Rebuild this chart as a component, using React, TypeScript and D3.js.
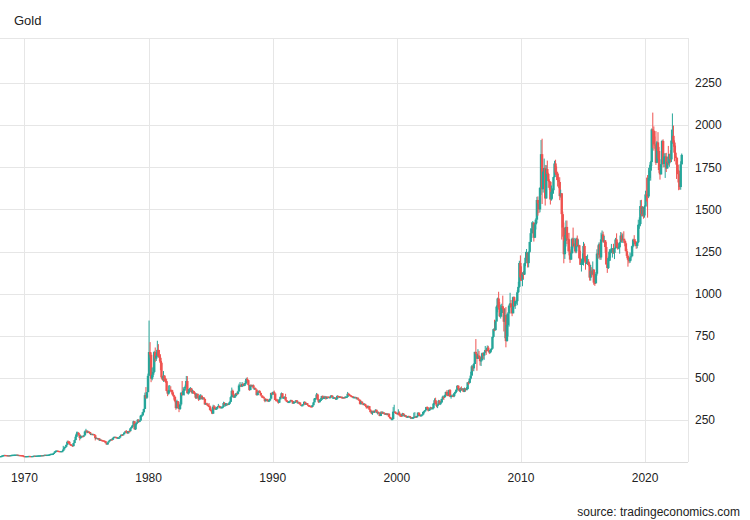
import React from "react";
import * as d3 from "d3";

const startYear = 1968;
const yTicks = [250, 500, 750, 1000, 1250, 1500, 1750, 2000, 2250];
const xTickYears = [1970, 1980, 1990, 2000, 2010, 2020];
const firstOpen = 35.2;

// Monthly closes, one row per year (1968..2022)
const closes: number[][] = [
  [35.2, 35.2, 38.3, 39.7, 41.9, 41.2, 40.6, 39.3, 39.8, 39.4, 40.9, 41.9],
  [42.5, 42.6, 43.3, 43.3, 43.5, 41.2, 41.8, 41.0, 40.5, 40.0, 36.0, 35.2],
  [35.0, 35.0, 35.3, 35.7, 36.0, 35.5, 35.3, 35.4, 36.2, 37.5, 37.4, 37.4],
  [37.9, 38.8, 38.9, 39.5, 40.5, 40.1, 41.0, 42.7, 42.0, 42.5, 42.9, 43.5],
  [46.0, 48.3, 48.3, 49.0, 54.6, 62.1, 65.7, 67.0, 65.5, 64.9, 62.9, 64.9],
  [65.1, 74.2, 84.1, 90.5, 102.0, 120.1, 120.0, 106.8, 103.0, 100.1, 94.0, 112.3],
  [130, 150, 168, 172, 163, 143, 154, 154, 152, 158, 181, 186.5],
  [176, 180, 178, 167, 167, 166, 166, 159, 141, 143, 139, 140],
  [128, 132, 129, 128, 126, 124, 112, 104, 116, 123, 131, 134.5],
  [132, 142, 149, 149, 147, 141, 145, 145, 154, 162, 161, 165],
  [175, 182, 181, 170, 184, 183, 200, 208, 218, 242, 194, 226],
  [233, 251, 240, 246, 275, 277, 296, 315, 397, 382, 415, 512],
  [653, 637, 494, 518, 535, 653, 614, 631, 666, 629, 619, 590],
  [502, 489, 513, 482, 480, 422, 406, 425, 428, 427, 414, 397],
  [387, 362, 320, 361, 325, 315, 342, 411, 397, 423, 436, 448],
  [481, 408, 414, 433, 437, 416, 422, 414, 405, 382, 405, 381],
  [371, 394, 394, 373, 383, 374, 342, 348, 341, 333, 329, 309],
  [306, 287, 329, 321, 315, 317, 327, 333, 326, 325, 325, 327],
  [350, 339, 345, 345, 343, 346, 357, 385, 423, 401, 383, 391],
  [407, 405, 419, 454, 456, 448, 463, 453, 460, 469, 493, 486],
  [458, 427, 457, 451, 455, 437, 437, 430, 397, 412, 421, 410],
  [395, 388, 385, 378, 362, 373, 368, 360, 366, 376, 410, 401],
  [415, 407, 368, 367, 364, 352, 372, 387, 408, 380, 383, 386],
  [366, 362, 355, 357, 360, 367, 362, 347, 354, 358, 366, 353],
  [354, 353, 341, 336, 337, 343, 357, 341, 349, 339, 334, 333],
  [330, 327, 337, 354, 377, 378, 401, 372, 355, 369, 370, 391],
  [378, 381, 389, 376, 387, 386, 384, 385, 395, 383, 383, 383],
  [374, 376, 392, 389, 385, 387, 383, 382, 384, 383, 387, 387],
  [405, 400, 396, 392, 390, 382, 385, 386, 379, 379, 371, 369],
  [345, 358, 348, 340, 345, 334, 326, 325, 332, 311, 296, 290],
  [303, 297, 301, 310, 293, 296, 288, 273, 294, 292, 294, 288],
  [287, 288, 280, 286, 268, 262, 255, 255, 299, 299, 292, 290],
  [283, 293, 277, 275, 273, 288, 277, 277, 274, 264, 270, 273],
  [265, 267, 258, 264, 267, 270, 265, 273, 293, 279, 275, 277],
  [282, 297, 302, 308, 326, 318, 305, 312, 324, 316, 319, 347],
  [367, 347, 334, 339, 364, 346, 354, 375, 388, 386, 397, 416],
  [399, 396, 427, 388, 393, 395, 391, 408, 416, 429, 453, 438],
  [422, 435, 428, 435, 417, 437, 429, 433, 473, 470, 495, 513],
  [568, 556, 582, 654, 643, 613, 632, 623, 599, 604, 646, 632],
  [650, 665, 662, 679, 659, 650, 665, 673, 743, 789, 783, 834],
  [923, 971, 917, 865, 885, 925, 913, 833, 872, 718, 814, 882],
  [928, 942, 917, 883, 979, 927, 954, 955, 1008, 1040, 1182, 1096],
  [1081, 1118, 1113, 1180, 1213, 1244, 1181, 1248, 1307, 1359, 1386, 1421],
  [1332, 1411, 1439, 1556, 1536, 1500, 1628, 1828, 1620, 1722, 1746, 1565],
  [1740, 1711, 1669, 1664, 1559, 1604, 1614, 1692, 1773, 1719, 1713, 1675],
  [1663, 1579, 1596, 1472, 1392, 1234, 1313, 1396, 1327, 1323, 1250, 1202],
  [1240, 1326, 1284, 1296, 1250, 1327, 1282, 1287, 1210, 1171, 1183, 1199],
  [1283, 1213, 1183, 1183, 1190, 1172, 1095, 1135, 1115, 1142, 1065, 1061],
  [1118, 1238, 1233, 1293, 1215, 1322, 1351, 1309, 1316, 1277, 1173, 1152],
  [1211, 1249, 1249, 1268, 1268, 1242, 1269, 1322, 1280, 1271, 1275, 1303],
  [1345, 1318, 1325, 1315, 1299, 1252, 1224, 1201, 1192, 1215, 1222, 1282],
  [1321, 1313, 1292, 1283, 1305, 1409, 1413, 1520, 1472, 1512, 1464, 1517],
  [1589, 1585, 1577, 1687, 1730, 1781, 1975, 1968, 1886, 1879, 1777, 1898],
  [1847, 1734, 1708, 1769, 1906, 1770, 1814, 1814, 1743, 1783, 1774, 1829],
  [1797, 1909, 1937, 1897, 1837, 1807, 1766, 1711, 1660, 1633, 1768, 1824],
];

// Monthly highs
const highs: number[][] = [
  [35.3, 35.3, 39, 40.5, 42.5, 42, 41.5, 40.5, 40.5, 40, 41.5, 42.5],
  [43, 43, 43.8, 43.8, 44, 43.6, 42.3, 42, 41.3, 40.8, 40.3, 36],
  [35.3, 35.2, 35.5, 36, 36.2, 36.1, 35.6, 35.6, 36.4, 37.8, 37.8, 37.6],
  [38.1, 39, 39.1, 39.8, 40.8, 40.8, 41.3, 43, 43, 42.9, 43.2, 43.8],
  [47, 49, 48.8, 49.5, 55, 65, 70, 69, 67, 65.5, 65, 65.5],
  [67, 96, 90, 92, 103, 127, 127, 124, 106, 102, 100, 114],
  [133, 160, 180, 180, 178, 163, 157, 157, 156, 160, 186, 197],
  [187, 185, 183, 178, 170, 168, 168, 166, 161, 146, 143, 142],
  [141, 134, 133, 130, 128, 127, 125, 113, 117, 124, 131, 135],
  [138, 143, 150, 151, 150, 147, 146, 147, 155, 163, 164, 166],
  [176, 185, 190, 180, 185, 186, 201, 213, 220, 245, 240, 228],
  [236, 254, 253, 248, 280, 282, 298, 316, 412, 445, 415, 525],
  [840, 712, 650, 560, 565, 660, 680, 650, 720, 700, 665, 640],
  [600, 510, 540, 515, 500, 495, 425, 455, 457, 450, 430, 425],
  [400, 390, 365, 370, 360, 340, 355, 415, 481, 445, 435, 460],
  [511, 510, 432, 440, 445, 440, 430, 425, 420, 410, 408, 405],
  [385, 400, 403, 395, 385, 385, 377, 350, 352, 345, 350, 335],
  [318, 307, 340, 338, 330, 325, 330, 345, 335, 332, 330, 330],
  [358, 356, 350, 350, 348, 350, 360, 390, 442, 430, 405, 395],
  [410, 412, 423, 465, 475, 465, 475, 470, 465, 482, 500, 503],
  [487, 442, 460, 460, 459, 460, 440, 442, 430, 412, 425, 427],
  [412, 395, 395, 390, 378, 375, 376, 374, 370, 377, 412, 415],
  [420, 424, 405, 375, 375, 366, 375, 390, 413, 408, 388, 390],
  [405, 368, 365, 361, 363, 370, 369, 363, 358, 360, 368, 368],
  [360, 358, 354, 342, 340, 344, 361, 358, 350, 350, 339, 338],
  [335, 335, 338, 356, 380, 380, 410, 406, 375, 371, 380, 393],
  [396, 386, 393, 389, 389, 390, 390, 390, 397, 396, 390, 386],
  [382, 378, 397, 394, 392, 390, 389, 388, 386, 388, 390, 389],
  [416, 410, 402, 396, 394, 391, 388, 389, 387, 385, 385, 373],
  [370, 362, 360, 350, 350, 346, 337, 336, 335, 333, 313, 305],
  [305, 306, 302, 313, 311, 300, 300, 290, 300, 302, 301, 296],
  [292, 290, 291, 288, 290, 267, 264, 260, 326, 340, 300, 295],
  [292, 313, 301, 285, 283, 292, 290, 283, 280, 275, 272, 275],
  [274, 268, 268, 267, 293, 296, 272, 275, 295, 294, 285, 281],
  [285, 300, 306, 310, 328, 330, 325, 318, 328, 325, 325, 350],
  [378, 382, 360, 341, 369, 367, 355, 375, 394, 390, 400, 418],
  [427, 418, 430, 433, 395, 402, 397, 411, 420, 432, 456, 455],
  [431, 443, 449, 438, 437, 442, 436, 445, 473, 481, 498, 536],
  [575, 574, 587, 654, 730, 645, 670, 660, 630, 620, 650, 650],
  [655, 689, 670, 692, 690, 662, 670, 677, 745, 793, 845, 840],
  [930, 976, 1011, 950, 935, 940, 988, 915, 910, 920, 880, 890],
  [935, 1005, 962, 930, 983, 983, 958, 965, 1020, 1070, 1195, 1227],
  [1162, 1127, 1135, 1183, 1248, 1265, 1244, 1250, 1307, 1388, 1424, 1431],
  [1425, 1415, 1447, 1575, 1577, 1552, 1632, 1912, 1920, 1728, 1802, 1764],
  [1763, 1790, 1718, 1679, 1665, 1642, 1625, 1695, 1789, 1795, 1755, 1724],
  [1694, 1691, 1617, 1595, 1487, 1422, 1348, 1434, 1434, 1360, 1361, 1262],
  [1279, 1332, 1392, 1331, 1315, 1332, 1345, 1322, 1290, 1255, 1205, 1239],
  [1307, 1297, 1223, 1224, 1232, 1205, 1183, 1170, 1157, 1191, 1146, 1088],
  [1128, 1263, 1287, 1304, 1304, 1362, 1375, 1368, 1343, 1318, 1306, 1181],
  [1220, 1264, 1261, 1295, 1270, 1296, 1272, 1331, 1358, 1307, 1299, 1307],
  [1366, 1362, 1356, 1370, 1326, 1310, 1266, 1232, 1214, 1244, 1238, 1285],
  [1326, 1347, 1324, 1310, 1306, 1439, 1453, 1555, 1557, 1518, 1516, 1524],
  [1611, 1689, 1704, 1747, 1765, 1789, 1981, 2075, 1993, 1933, 1965, 1906],
  [1959, 1871, 1755, 1798, 1913, 1916, 1833, 1834, 1836, 1813, 1877, 1831],
  [1852, 1974, 2070, 1998, 1910, 1879, 1814, 1807, 1735, 1730, 1786, 1832],
];

// Monthly lows
const lows: number[][] = [
  [35.1, 35.1, 35.2, 37.5, 39.5, 40.5, 39.5, 38.5, 38.8, 38.8, 39, 40.5],
  [41.5, 41.8, 42.3, 42.8, 42.9, 41, 41, 40.8, 40.2, 39.5, 35.5, 34.9],
  [34.8, 34.8, 34.9, 35.2, 35.5, 35.3, 35.1, 35.1, 35.3, 36.1, 37.1, 37.1],
  [37.3, 37.8, 38.4, 38.7, 39.4, 39.8, 39.9, 40.9, 41.6, 41.8, 42.3, 42.7],
  [43.5, 45.5, 47.5, 47.8, 49, 54, 62, 63, 64, 63.5, 62.5, 62.5],
  [63, 64, 75, 84, 89, 101, 115, 104, 97, 97, 90, 93],
  [112, 129, 148, 164, 156, 128, 136, 147, 148, 151, 157, 175],
  [170, 176, 174, 166, 161, 161, 164, 157, 128, 139, 137, 137],
  [127, 126, 128, 126, 125, 123, 112, 103, 104, 116, 122, 130],
  [130, 132, 142, 147, 145, 140, 140, 144, 146, 155, 159, 160],
  [165, 174, 179, 168, 170, 180, 183, 198, 204, 217, 193, 190],
  [218, 232, 234, 236, 246, 274, 275, 290, 315, 375, 375, 414],
  [515, 620, 474, 485, 505, 530, 595, 600, 625, 622, 600, 545],
  [495, 483, 476, 480, 470, 420, 391, 400, 413, 418, 403, 392],
  [370, 355, 310, 317, 322, 296, 309, 335, 395, 398, 395, 425],
  [445, 407, 400, 408, 425, 407, 405, 405, 400, 375, 375, 378],
  [362, 370, 382, 372, 370, 370, 340, 340, 335, 330, 327, 305],
  [299, 284, 287, 310, 312, 310, 315, 328, 320, 322, 320, 320],
  [325, 335, 330, 333, 336, 340, 343, 355, 383, 398, 380, 380],
  [390, 400, 402, 418, 447, 445, 445, 450, 450, 452, 465, 475],
  [454, 423, 427, 447, 447, 437, 430, 430, 395, 396, 410, 410],
  [394, 382, 385, 377, 355, 358, 365, 356, 356, 363, 376, 400],
  [400, 406, 368, 365, 362, 346, 352, 372, 386, 378, 376, 376],
  [365, 357, 353, 355, 355, 359, 360, 346, 347, 353, 357, 353],
  [350, 350, 340, 335, 335, 336, 342, 340, 341, 339, 331, 332],
  [326, 326, 326, 336, 355, 370, 377, 366, 350, 354, 366, 369],
  [375, 374, 381, 370, 375, 383, 382, 382, 384, 383, 382, 377],
  [373, 373, 374, 384, 383, 384, 381, 380, 382, 381, 383, 385],
  [387, 399, 394, 390, 390, 382, 380, 384, 377, 378, 371, 367],
  [340, 340, 348, 337, 338, 332, 318, 319, 322, 309, 295, 284],
  [280, 293, 292, 300, 292, 282, 287, 272, 273, 288, 290, 287],
  [282, 283, 277, 278, 267, 256, 252, 252, 254, 294, 288, 285],
  [282, 283, 275, 272, 270, 272, 275, 271, 270, 264, 263, 268],
  [263, 255, 256, 255, 263, 266, 263, 264, 270, 276, 272, 273],
  [277, 280, 290, 300, 308, 315, 300, 303, 310, 314, 315, 317],
  [340, 345, 325, 320, 340, 343, 338, 350, 373, 368, 380, 390],
  [393, 390, 395, 385, 376, 388, 385, 385, 403, 411, 425, 427],
  [416, 412, 425, 425, 415, 415, 419, 429, 431, 458, 467, 490],
  [516, 540, 539, 583, 640, 542, 612, 612, 573, 570, 606, 612],
  [607, 648, 636, 662, 652, 641, 645, 655, 672, 738, 777, 781],
  [845, 889, 905, 860, 852, 862, 903, 775, 735, 681, 715, 745],
  [804, 920, 882, 866, 883, 920, 909, 938, 931, 1004, 1035, 1075],
  [1075, 1044, 1087, 1111, 1163, 1197, 1155, 1156, 1241, 1307, 1330, 1357],
  [1309, 1330, 1381, 1418, 1463, 1478, 1483, 1586, 1532, 1600, 1668, 1523],
  [1566, 1692, 1628, 1616, 1529, 1552, 1564, 1593, 1690, 1704, 1674, 1636],
  [1626, 1555, 1570, 1321, 1338, 1180, 1206, 1280, 1294, 1251, 1227, 1182],
  [1201, 1238, 1277, 1268, 1240, 1240, 1281, 1273, 1204, 1183, 1131, 1170],
  [1167, 1191, 1142, 1175, 1170, 1162, 1077, 1077, 1098, 1109, 1052, 1046],
  [1061, 1107, 1208, 1208, 1200, 1201, 1309, 1301, 1302, 1242, 1171, 1123],
  [1146, 1193, 1195, 1240, 1214, 1236, 1205, 1266, 1270, 1261, 1264, 1237],
  [1302, 1307, 1301, 1302, 1281, 1250, 1211, 1160, 1180, 1182, 1196, 1221],
  [1275, 1301, 1281, 1266, 1269, 1300, 1385, 1400, 1459, 1458, 1445, 1451],
  [1517, 1547, 1451, 1567, 1670, 1671, 1757, 1863, 1849, 1860, 1764, 1775],
  [1802, 1717, 1677, 1721, 1766, 1750, 1751, 1687, 1722, 1746, 1762, 1753],
  [1780, 1781, 1890, 1872, 1786, 1805, 1681, 1709, 1614, 1617, 1617, 1765],
];

const W = 750;
const H = 520;
const plotL = 0;
const plotR = 688;
const plotT = 38;
const plotB = 462;
const UP = "#26a69a";
const DOWN = "#ef5350";
const GRID = "#e6e6e6";
const FONT = "'Liberation Sans', Arial, Helvetica, sans-serif";

type Candle = { date: Date; o: number; h: number; l: number; c: number };

function buildCandles(): Candle[] {
  const out: Candle[] = [];
  let prev = firstOpen;
  closes.forEach((row, yi) => {
    row.forEach((c, mi) => {
      const o = prev;
      const h = Math.max(highs[yi][mi], o, c);
      const l = Math.min(lows[yi][mi], o, c);
      out.push({ date: new Date(startYear + yi, mi, 15), o, h, l, c });
      prev = c;
    });
  });
  return out;
}

export default function App() {
  const candles = buildCandles();
  const x = d3
    .scaleTime()
    .domain([new Date(1968, 0, 12), new Date(2023, 5, 17)])
    .range([plotL, plotR]);
  const y = d3.scaleLinear().domain([0, 2518]).range([plotB, plotT]);
  const bodyW = 2.4;

  return (
    <svg
      width={W}
      height={H}
      style={{ position: "absolute", left: 0, top: 0, background: "#fff" }}
      fontFamily={FONT}
    >
      <rect x={0} y={0} width={W} height={H} fill="#fff" />
      <text x={14} y={25} fontSize={13} fill="#222">
        Gold
      </text>
      {yTicks.map((t) => (
        <line
          key={"gy" + t}
          x1={plotL}
          x2={plotR}
          y1={Math.round(y(t)) + 0.5}
          y2={Math.round(y(t)) + 0.5}
          stroke={GRID}
          strokeWidth={1}
        />
      ))}
      {xTickYears.map((yr) => {
        const px = Math.round(x(new Date(yr, 0, 1))) + 0.5;
        return (
          <line
            key={"gx" + yr}
            x1={px}
            x2={px}
            y1={plotT}
            y2={plotB}
            stroke={GRID}
            strokeWidth={1}
          />
        );
      })}
      <line x1={0} x2={plotR} y1={plotT + 0.5} y2={plotT + 0.5} stroke={GRID} />
      <line x1={plotR + 0.5} x2={plotR + 0.5} y1={plotT} y2={plotB} stroke={GRID} />
      <line x1={0} x2={plotR} y1={plotB + 0.5} y2={plotB + 0.5} stroke="#dcdcdc" />
      <g>
        {candles.map((d, i) => {
          const cx = x(d.date);
          const col = d.c >= d.o ? UP : DOWN;
          const yTop = y(Math.max(d.o, d.c));
          const yBot = y(Math.min(d.o, d.c));
          return (
            <g key={i}>
              <line
                x1={cx}
                x2={cx}
                y1={y(d.h)}
                y2={y(d.l)}
                stroke={col}
                strokeWidth={1}
              />
              <rect
                x={cx - bodyW / 2}
                y={yTop}
                width={bodyW}
                height={Math.max(1.2, yBot - yTop)}
                fill={col}
              />
            </g>
          );
        })}
      </g>
      {yTicks.map((t) => (
        <text
          key={"ly" + t}
          x={695}
          y={y(t)}
          dy="0.35em"
          fontSize={12}
          fill="#222"
        >
          {t}
        </text>
      ))}
      {xTickYears.map((yr) => (
        <text
          key={"lx" + yr}
          x={x(new Date(yr, 0, 1))}
          y={482}
          fontSize={12}
          fill="#222"
          textAnchor="middle"
        >
          {yr}
        </text>
      ))}
      <text x={740} y={516} fontSize={12} fill="#222" textAnchor="end">
        source: tradingeconomics.com
      </text>
    </svg>
  );
}
